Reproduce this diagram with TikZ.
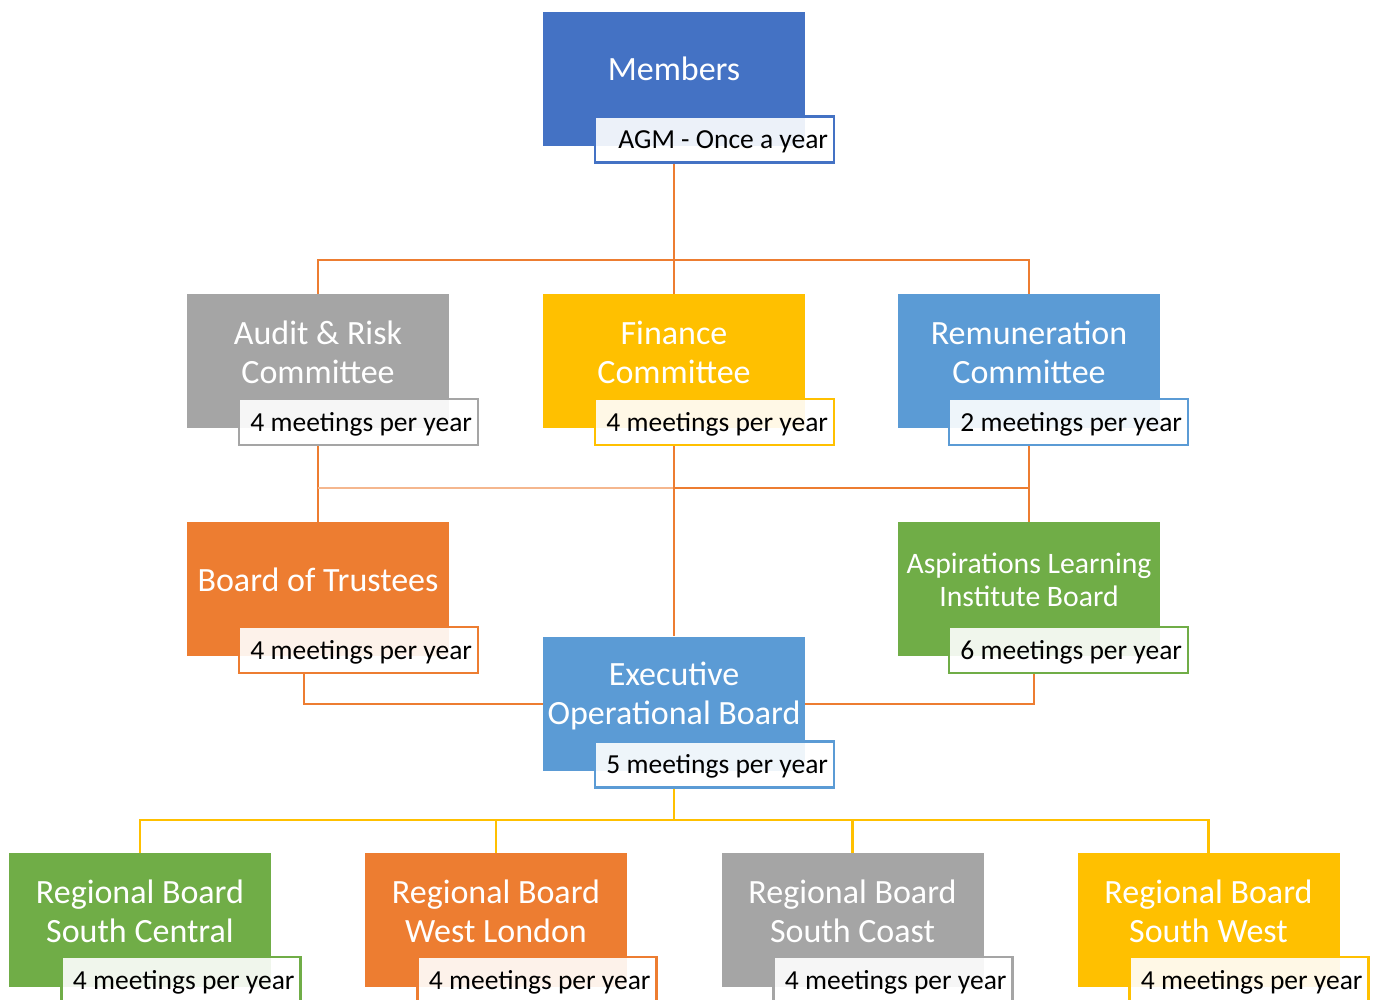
\documentclass[tikz,border=0pt]{standalone}
\usepackage{fontspec}
\setmainfont{Carlito}
\begin{document}
\begin{tikzpicture}[x=1pt,y=-1pt,
  mainbox/.style={rectangle,inner sep=0pt,minimum width=262pt,minimum height=134pt,fill=#1},
  subbox/.style={rectangle,draw=#1,line width=2.5pt,fill=white,fill opacity=0.9,text opacity=1,
     inner xsep=6pt,inner ysep=0pt,text width=227pt,align=flush right,minimum height=46pt,
     text height=20pt,text depth=2pt,
     font=\fontsize{27.5}{29}\selectfont,text=black},
  ttl/.style={text=white,align=center,font=\fontsize{34}{39}\selectfont},
  oline/.style={draw=corange,line width=2.5pt},
  olight/.style={draw=corange!55,line width=2pt},
  yline/.style={draw=cyellow,line width=2.5pt}]
\definecolor{cdblue}{HTML}{4472C4}
\definecolor{cblue}{HTML}{5B9BD5}
\definecolor{cgrey}{HTML}{A5A5A5}
\definecolor{cyellow}{HTML}{FFC000}
\definecolor{corange}{HTML}{ED7D31}
\definecolor{cgreen}{HTML}{70AD47}
\useasboundingbox (0,0) rectangle (1376,1000);
% Members
\node[mainbox=cdblue] (mB) at (674,79) {};
\node[ttl] (mT) at (674,69) {Members};
\node[subbox=cdblue] (mS) at (714.5,139.5) {\mbox{AGM - Once a year}};
% Committees
\node[mainbox=cgrey] (aB) at (318,361) {};
\node[ttl] (aT) at (318,352) {Audit \& Risk\\Committee};
\node[subbox=cgrey] (aS) at (358.5,422) {\mbox{4 meetings per year}};
\node[mainbox=cyellow] (fB) at (674,361) {};
\node[ttl] (fT) at (674,352) {Finance\\Committee};
\node[subbox=cyellow] (fS) at (714.5,422) {\mbox{4 meetings per year}};
\node[mainbox=cblue] (rB) at (1029,361) {};
\node[ttl] (rT) at (1029,352) {Remuneration\\Committee};
\node[subbox=cblue] (rS) at (1068.5,422) {\mbox{2 meetings per year}};
% Row 3
\node[mainbox=corange] (tB) at (318,589) {};
\node[ttl] (tT) at (318,580) {Board of Trustees};
\node[subbox=corange] (tS) at (358.5,650) {\mbox{4 meetings per year}};
\node[mainbox=cgreen] (lB) at (1029,589) {};
\node[ttl,font=\fontsize{29.7}{33}\selectfont] (lT) at (1029,580) {Aspirations Learning\\Institute Board};
\node[subbox=cgreen] (lS) at (1068.5,650) {\mbox{6 meetings per year}};
% Executive
\node[mainbox=cblue] (eB) at (674,703.5) {};
\node[ttl] (eT) at (674,696) {Executive\\Operational Board};
\node[subbox=cblue] (eS) at (714.5,764.5) {\mbox{5 meetings per year}};
% Regional
\node[mainbox=cgreen] (r1) at (140,920) {};
\node[ttl] (r1T) at (140,911.5) {Regional Board\\South Central};
\node[subbox=cgreen] (r1S) at (181,980) {\mbox{4 meetings per year}};
\node[mainbox=corange] (r2) at (496,920) {};
\node[ttl] (r2T) at (496,911.5) {Regional Board\\West London};
\node[subbox=corange] (r2S) at (537,980) {\mbox{4 meetings per year}};
\node[mainbox=cgrey] (r3) at (852.5,920) {};
\node[ttl] (r3T) at (852.5,911.5) {Regional Board\\South Coast};
\node[subbox=cgrey] (r3S) at (893,980) {\mbox{4 meetings per year}};
\node[mainbox=cyellow] (r4) at (1208.5,920) {};
\node[ttl] (r4T) at (1208.5,911.5) {Regional Board\\South West};
\node[subbox=cyellow] (r4S) at (1249,980) {\mbox{4 meetings per year}};
% Connectors
\coordinate (j1) at (674,260);
\coordinate (j2) at (674,488);
\coordinate (j3) at (674,820);
\draw[oline] (mB |- mS.south) -- (j1);
\draw[oline] (aB.north) |- (j1) -| (rB.north);
\draw[oline] (j1) -- (fB.north);
\draw[oline] (aB |- aS.south) -- (tB.north);
\draw[olight] (aB |- j2) -- (j2);
\draw[oline] (j2) -- (rB |- j2);
\draw[oline] (fB |- fS.south) -- (eB.north);
\draw[oline] (rB |- rS.south) -- (lB.north);
\draw[oline,line width=2pt] (tS.south west) ++(66,0) |- (eB.west);
\draw[oline,line width=2pt] (lS.south west) ++(86,0) |- (eB.east);
\draw[yline] (eB |- eS.south) -- (j3);
\draw[yline] (r1.north) |- (j3) -| (r4.north);
\draw[yline] (r2.north) -- (r2 |- j3);
\draw[yline] (r3.north) -- (r3 |- j3);
\end{tikzpicture}
\end{document}
